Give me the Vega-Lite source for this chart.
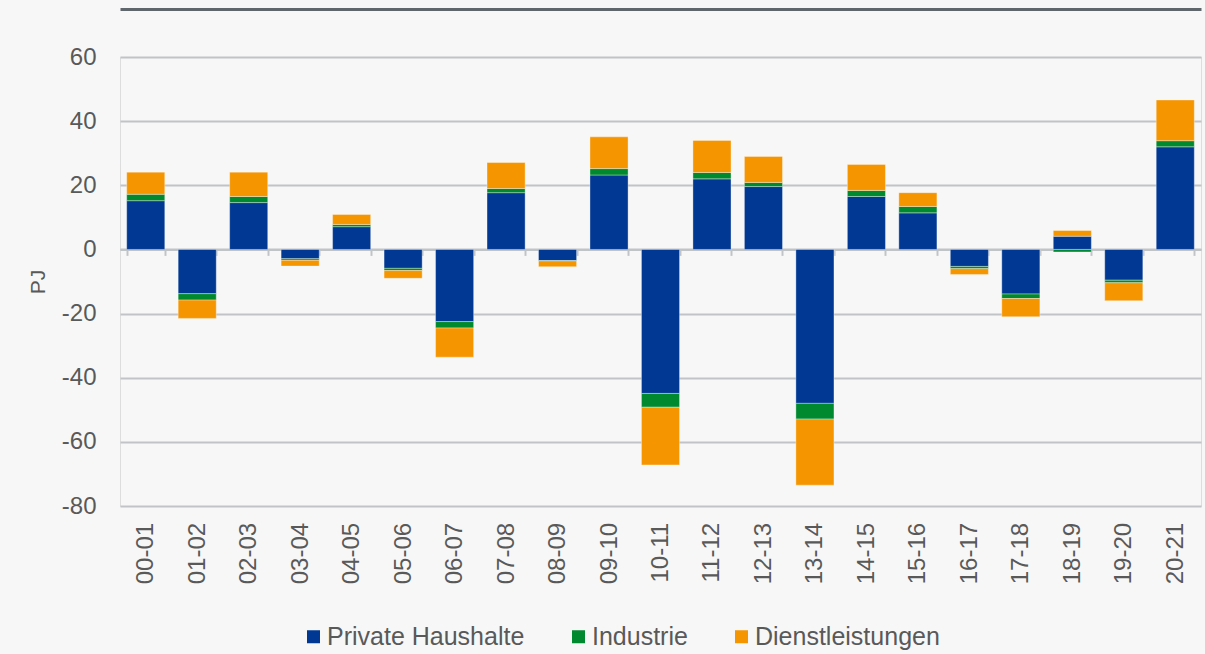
{
  "$schema": "https://vega.github.io/schema/vega-lite/v6.json",
  "width": 1081,
  "height": 449,
  "autosize": {"type": "none"},
  "padding": {"left": 120, "top": 57, "right": 4, "bottom": 148},
  "background": "#f7f7f7",
  "data": {
    "values": [
      {"p": "00-01", "Private Haushalte": 15.2, "Industrie": 2.0, "Dienstleistungen": 6.9},
      {"p": "01-02", "Private Haushalte": -13.8, "Industrie": -2.0, "Dienstleistungen": -5.7},
      {"p": "02-03", "Private Haushalte": 14.6, "Industrie": 1.9, "Dienstleistungen": 7.6},
      {"p": "03-04", "Private Haushalte": -2.9, "Industrie": -0.5, "Dienstleistungen": -1.8},
      {"p": "04-05", "Private Haushalte": 7.1, "Industrie": 0.7, "Dienstleistungen": 3.1},
      {"p": "05-06", "Private Haushalte": -5.9, "Industrie": -0.7, "Dienstleistungen": -2.4},
      {"p": "06-07", "Private Haushalte": -22.5, "Industrie": -2.0, "Dienstleistungen": -9.1},
      {"p": "07-08", "Private Haushalte": 17.7, "Industrie": 1.3, "Dienstleistungen": 8.1},
      {"p": "08-09", "Private Haushalte": -3.5, "Industrie": -0.1, "Dienstleistungen": -1.8},
      {"p": "09-10", "Private Haushalte": 23.2, "Industrie": 2.0, "Dienstleistungen": 9.9},
      {"p": "10-11", "Private Haushalte": -44.9, "Industrie": -4.3, "Dienstleistungen": -18.0},
      {"p": "11-12", "Private Haushalte": 22.0, "Industrie": 2.0, "Dienstleistungen": 10.0},
      {"p": "12-13", "Private Haushalte": 19.6, "Industrie": 1.3, "Dienstleistungen": 8.1},
      {"p": "13-14", "Private Haushalte": -48.0, "Industrie": -4.9, "Dienstleistungen": -20.6},
      {"p": "14-15", "Private Haushalte": 16.5, "Industrie": 1.9, "Dienstleistungen": 8.1},
      {"p": "15-16", "Private Haushalte": 11.4, "Industrie": 2.0, "Dienstleistungen": 4.3},
      {"p": "16-17", "Private Haushalte": -5.3, "Industrie": -0.7, "Dienstleistungen": -1.8},
      {"p": "17-18", "Private Haushalte": -13.9, "Industrie": -1.4, "Dienstleistungen": -5.7},
      {"p": "18-19", "Private Haushalte": 4.1, "Industrie": -0.8, "Dienstleistungen": 1.8},
      {"p": "19-20", "Private Haushalte": -9.6, "Industrie": -0.8, "Dienstleistungen": -5.6},
      {"p": "20-21", "Private Haushalte": 32.0, "Industrie": 1.9, "Dienstleistungen": 12.7}
    ]
  },
  "layer": [
    {
      "transform": [
        {"fold": ["Private Haushalte", "Industrie", "Dienstleistungen"], "as": ["sektor", "wert"]}
      ],
      "mark": {"type": "bar", "stroke": "#ffffff", "strokeWidth": 1, "strokeOpacity": 0.35},
      "encoding": {
        "x": {
          "field": "p",
          "type": "nominal",
          "sort": null,
          "scale": {"paddingInner": 0.26, "paddingOuter": 0.13},
          "axis": {
            "title": null,
            "orient": "bottom",
            "offset": -256.6,
            "domainColor": "#c0c4c6",
            "domainWidth": 2,
            "ticks": true,
            "tickBand": "extent",
            "tickSize": 6,
            "tickColor": "#c0c4c6",
            "tickWidth": 2,
            "labelAngle": -90,
            "labelAlign": "right",
            "labelBaseline": "middle",
            "labelPadding": 267,
            "labelFontSize": 24,
            "labelFont": "Liberation Sans",
            "labelColor": "#595959"
          }
        },
        "y": {
          "field": "wert",
          "type": "quantitative",
          "stack": "zero",
          "scale": {"domain": [-80, 60], "nice": false, "zero": true},
          "axis": {
            "title": "PJ",
            "titleFont": "Liberation Sans",
            "titleFontSize": 21,
            "titleFontWeight": "normal",
            "titleColor": "#595959",
            "titlePadding": 13,
            "values": [-80, -60, -40, -20, 0, 20, 40, 60],
            "labelExpr": "'' + datum.value",
            "domain": false,
            "ticks": false,
            "grid": true,
            "gridColor": "#c0c4c6",
            "gridWidth": 2,
            "labelPadding": 24,
            "labelFontSize": 24,
            "labelFont": "Liberation Sans",
            "labelColor": "#595959"
          }
        },
        "color": {
          "field": "sektor",
          "type": "nominal",
          "sort": ["Private Haushalte", "Industrie", "Dienstleistungen"],
          "scale": {
            "domain": ["Private Haushalte", "Industrie", "Dienstleistungen"],
            "range": ["#003893", "#00892f", "#f59500"]
          },
          "legend": {
            "title": null,
            "orient": "none",
            "direction": "horizontal",
            "legendX": 181,
            "legendY": 567,
            "symbolType": "square",
            "symbolSize": 169,
            "symbolStrokeWidth": 0,
            "labelFont": "Liberation Sans",
            "labelFontSize": 25,
            "labelColor": "#595959",
            "labelOffset": 1,
            "labelLimit": 400,
            "columnPadding": 41
          }
        }
      }
    },
    {
      "mark": {"type": "point", "opacity": 0},
      "encoding": {
        "x": {
          "field": "p",
          "type": "nominal",
          "sort": null,
          "axis": {
            "title": null,
            "orient": "top",
            "offset": 48,
            "labels": false,
            "ticks": false,
            "grid": false,
            "domainColor": "#5f676c",
            "domainWidth": 3
          }
        }
      }
    }
  ],
  "resolve": {"axis": {"x": "independent"}}
}
